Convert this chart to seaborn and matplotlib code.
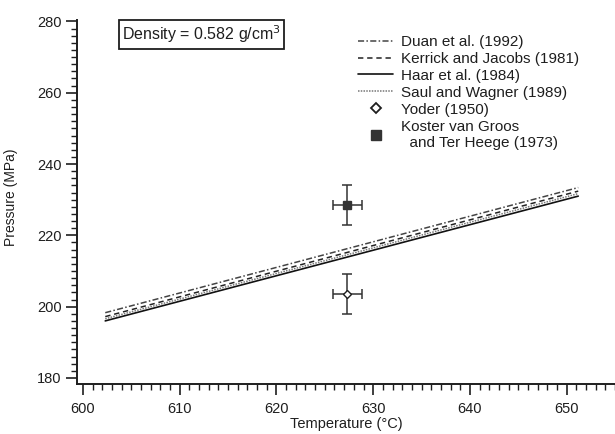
import matplotlib
matplotlib.use("Agg")
import matplotlib.pyplot as plt
from matplotlib.ticker import MultipleLocator
from matplotlib.lines import Line2D
import seaborn as sns
import pandas as pd

# ---- data ----
temps = [602.3, 651.2]
duan = [198.3, 233.4]
kerrick = [197.2, 232.4]
haar = [196.0, 231.0]
saul = [196.6, 231.7]
series_names = ["Duan et al. (1992)", "Kerrick and Jacobs (1981)",
                "Haar et al. (1984)", "Saul and Wagner (1989)"]

yoder_T, yoder_P = 627.3, 203.6
yoder_Terr, yoder_Perr = 1.5, 5.6
koster_T, koster_P = 627.3, 228.5
koster_Terr, koster_Perr = 1.5, 5.7
point_names = ["Yoder (1950)", "Koster van Groos\n  and Ter Heege (1973)"]

sns.set_style("ticks")
plt.rcParams['font.family'] = ['Liberation Sans', 'DejaVu Sans']

fig = plt.figure(figsize=(6.15, 4.34), dpi=100)
ax = fig.add_axes([77/615, 1-384/434, (615-77)/615, (384-20)/434])

ink = "#1e1e1e"
styles = [
    dict(color="#444444", linestyle=(0, (4, 1.5, 1, 1.5)), linewidth=1.1),
    dict(color="#222222", linestyle=(0, (3.5, 2.5)), linewidth=1.1),
    dict(color="#111111", linestyle="-", linewidth=1.2),
    dict(color="#777777", linestyle=(0, (1, 0.8)), linewidth=1.1),
]
for name, vals, st in zip(series_names, [duan, kerrick, haar, saul], styles):
    df = pd.DataFrame({"T": temps, "P": vals})
    sns.lineplot(data=df, x="T", y="P", ax=ax, label=name, **st)

ax.errorbar([yoder_T], [yoder_P], xerr=[yoder_Terr], yerr=[yoder_Perr],
            fmt="D", mfc="white", mec=ink, ms=4.5, ecolor="#333333",
            elinewidth=1.1, capsize=3.5, capthick=1.1)
ax.errorbar([koster_T], [koster_P], xerr=[koster_Terr], yerr=[koster_Perr],
            fmt="s", mfc="#333333", mec="#333333", ms=6, ecolor="#333333",
            elinewidth=1.1, capsize=3.5, capthick=1.1)

ax.set_xlim(599.38, 655.0)
ax.set_ylim(178.3, 280.4)
ax.xaxis.set_major_locator(MultipleLocator(10))
ax.xaxis.set_minor_locator(MultipleLocator(1))
ax.yaxis.set_major_locator(MultipleLocator(20))
ax.yaxis.set_minor_locator(MultipleLocator(2))

for s in ["top", "right"]:
    ax.spines[s].set_visible(False)
for s in ["left", "bottom"]:
    ax.spines[s].set_linewidth(1.4)
    ax.spines[s].set_color(ink)

ax.tick_params(axis="both", which="major", direction="out", length=8,
               width=1.2, color=ink, labelsize=10.5, labelcolor=ink, pad=3)
ax.tick_params(axis="both", which="minor", direction="out", length=4,
               width=1.0, color=ink)
ax.tick_params(axis="x", which="major", pad=5)

ax.set_xlabel("Temperature (°C)", fontsize=10.5, color=ink, labelpad=1)
ax.set_ylabel("Pressure (MPa)", fontsize=10, color=ink)
ax.yaxis.set_label_coords(-0.11, 0.514)

ax.text(122/615, 1-34.5/434, "Density = 0.582 g/cm$^3$", transform=fig.transFigure,
        fontsize=11.5, color=ink, va="center", ha="left",
        bbox=dict(boxstyle="square,pad=0.2", fc="white", ec=ink, lw=1.3))

handles, labels = ax.get_legend_handles_labels()
handles += [
    Line2D([], [], linestyle="none", marker="D", mfc="white", mec=ink, ms=5, mew=1.3),
    Line2D([], [], linestyle="none", marker="s", mfc="#333333", mec="#333333", ms=7),
]
labels += point_names
leg = ax.legend(handles, labels, loc="upper left",
                bbox_to_anchor=(358/615, 1-35/434), bbox_transform=fig.transFigure,
                frameon=False, fontsize=11, handlelength=2.3, handletextpad=0.5,
                labelspacing=0.19, borderpad=0, borderaxespad=0)
for t in leg.get_texts():
    t.set_color(ink)

fig.savefig("out.png", dpi=100)
